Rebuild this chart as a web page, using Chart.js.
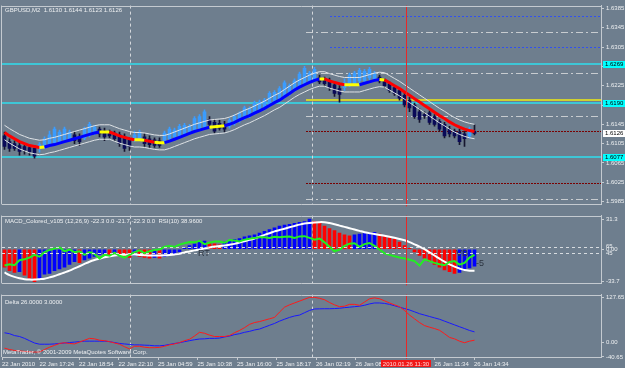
<!DOCTYPE html>
<html>
<head>
<meta charset="utf-8">
<script src="https://cdn.jsdelivr.net/npm/chart.js@4.4.1/dist/chart.umd.min.js"></script>
<style>
  html, body { margin: 0; padding: 0; background: #6e7e8e; overflow: hidden; }
  #wrap { position: relative; width: 625px; height: 368px; }
  #wrap canvas { position: absolute; left: 0; }
</style>
</head>
<body>
<div id="wrap">
  <canvas id="mainChart" width="625" height="210" style="top:0px"></canvas>
  <canvas id="macdChart" width="625" height="79" style="top:210px"></canvas>
  <canvas id="deltaChart" width="625" height="79" style="top:289px"></canvas>
</div>
<script>
// GBPUSD M2 bars, one entry per bar (oldest first)
const opens = [
  1.6121,1.6109,1.6105,1.6101,1.6099,1.6097,1.6095,1.6095,1.6099,1.6103,
  1.6107,1.6109,1.6113,1.6113,1.6123,1.6119,1.6117,1.6123,1.6127,1.6135,
  1.6131,1.6129,1.6127,1.6123,1.6119,1.6113,1.6113,1.6115,1.6119,1.6115,
  1.6113,1.6111,1.6111,1.6115,1.6119,1.6121,1.6125,1.6129,1.6133,1.6137,
  1.6139,1.6155,1.6149,1.6147,1.6145,1.6141,1.6147,1.6153,1.6159,1.6163,
  1.6169,1.6175,1.6179,1.6185,1.6191,1.6197,1.6203,1.6209,1.6217,1.6223,
  1.6229,1.6233,1.6237,1.6241,1.6239,1.6235,1.6227,1.6219,1.6221,1.6227,
  1.6229,1.6235,1.6235,1.6241,1.6239,1.6243,1.6235,1.6229,1.6221,1.6215,
  1.6205,1.6195,1.6185,1.6171,1.6165,1.6169,1.6161,1.6151,1.6145,1.6135,
  1.6131,1.6129,1.6125,1.6121,1.6130
];
const highs = [
  1.6129,1.6115,1.6111,1.6107,1.6103,1.6101,1.6101,1.6107,1.6119,1.6131,
  1.6139,1.6133,1.6139,1.6133,1.6129,1.6125,1.6139,1.6149,1.6143,1.6139,
  1.6137,1.6133,1.6131,1.6129,1.6125,1.6117,1.6131,1.6133,1.6125,1.6121,
  1.6117,1.6117,1.6131,1.6139,1.6137,1.6145,1.6147,1.6145,1.6161,1.6165,
  1.6175,1.6161,1.6155,1.6153,1.6151,1.6157,1.6165,1.6171,1.6183,1.6181,
  1.6193,1.6195,1.6199,1.6213,1.6215,1.6223,1.6235,1.6229,1.6239,1.6253,
  1.6265,1.6255,1.6263,1.6247,1.6243,1.6241,1.6233,1.6225,1.6239,1.6251,
  1.6255,1.6261,1.6259,1.6263,1.6255,1.6247,1.6239,1.6233,1.6225,1.6219,
  1.6209,1.6201,1.6189,1.6177,1.6171,1.6173,1.6165,1.6155,1.6149,1.6141,
  1.6135,1.6135,1.6131,1.6139,1.6144
];
const lows = [
  1.6093,1.6089,1.6091,1.6081,1.6083,1.6081,1.6075,1.6087,1.6095,1.6099,
  1.6103,1.6105,1.6109,1.6109,1.6105,1.6101,1.6113,1.6119,1.6123,1.6119,
  1.6111,1.6117,1.6111,1.6099,1.6089,1.6091,1.6109,1.6111,1.6099,1.6097,
  1.6097,1.6097,1.6107,1.6111,1.6115,1.6117,1.6121,1.6125,1.6129,1.6133,
  1.6135,1.6141,1.6127,1.6133,1.6129,1.6137,1.6143,1.6149,1.6155,1.6159,
  1.6165,1.6171,1.6175,1.6181,1.6187,1.6193,1.6199,1.6205,1.6213,1.6219,
  1.6225,1.6229,1.6233,1.6229,1.6225,1.6215,1.6203,1.6191,1.6215,1.6223,
  1.6225,1.6231,1.6231,1.6237,1.6235,1.6231,1.6221,1.6211,1.6205,1.6195,
  1.6181,1.6171,1.6157,1.6149,1.6157,1.6145,1.6141,1.6131,1.6117,1.6119,
  1.6117,1.6103,1.6099,1.6117,1.6123
];
const closes = [
  1.6099,1.6095,1.6095,1.6089,1.6091,1.6087,1.6079,1.6103,1.6115,1.6123,
  1.6135,1.6129,1.6135,1.6129,1.6111,1.6109,1.6135,1.6145,1.6139,1.6125,
  1.6119,1.6121,1.6115,1.6105,1.6095,1.6099,1.6123,1.6129,1.6105,1.6103,
  1.6101,1.6101,1.6127,1.6135,1.6133,1.6141,1.6143,1.6141,1.6157,1.6161,
  1.6171,1.6145,1.6131,1.6137,1.6135,1.6153,1.6161,1.6167,1.6179,1.6177,
  1.6189,1.6191,1.6195,1.6209,1.6211,1.6219,1.6231,1.6225,1.6235,1.6249,
  1.6261,1.6251,1.6259,1.6233,1.6229,1.6221,1.6209,1.6207,1.6231,1.6247,
  1.6251,1.6257,1.6255,1.6259,1.6251,1.6235,1.6225,1.6215,1.6209,1.6199,
  1.6185,1.6179,1.6161,1.6155,1.6163,1.6149,1.6145,1.6135,1.6121,1.6125,
  1.6121,1.6109,1.6115,1.6135,1.6126
];
// moving average drawn over the candles, and its envelope width
const movingAvg = [
  1.6128,1.6121,1.6115,1.6109,1.6105,1.6101,1.6099,1.6097,1.6098,1.6101,
  1.6103,1.6106,1.6109,1.6112,1.6115,1.6118,1.6121,1.6124,1.6127,1.6129,
  1.6129,1.6129,1.6125,1.6121,1.6118,1.6115,1.6113,1.6113,1.6112,1.6110,
  1.6108,1.6107,1.6107,1.6110,1.6114,1.6118,1.6122,1.6126,1.6130,1.6133,
  1.6136,1.6139,1.6140,1.6141,1.6142,1.6145,1.6149,1.6154,1.6159,1.6163,
  1.6168,1.6173,1.6178,1.6184,1.6190,1.6195,1.6202,1.6209,1.6216,1.6222,
  1.6227,1.6232,1.6236,1.6239,1.6239,1.6235,1.6232,1.6229,1.6227,1.6227,
  1.6227,1.6227,1.6230,1.6233,1.6236,1.6238,1.6237,1.6231,1.6225,1.6219,
  1.6212,1.6205,1.6198,1.6191,1.6184,1.6177,1.6170,1.6163,1.6157,1.6150,
  1.6144,1.6139,1.6135,1.6132,1.6130
];
const envelope = 0.0015;

// MACD_Colored panel
const macdHist = [
  -18.6,-22.3,-24.2,-23.3,-27,-30,-33.7,-31,-26,-25.1,
  -22.3,-20.5,-18.6,-15.8,-13,-14,-11.2,-9.3,-7.4,-5.6,
  -4.7,-5.6,-4.7,-6.5,-7.4,-8.4,-6.5,-7.4,-8.4,-9.3,
  -8.4,-9.3,-7.4,-5.6,-4.7,-2.8,0.9,3.7,5.6,7.4,
  8.4,6.5,5.6,4.7,7.4,9.3,10.2,11.2,13,14,
  14.9,16.7,18.6,20.5,22.3,24.2,25.1,26,27,27.9,
  28.8,31.3,28.8,27,24.2,21.4,19.5,16.7,14.9,14,
  14.9,15.8,16.3,16.7,17.7,15.8,14,12.1,10.2,7.4,
  3.7,0.9,-2.8,-6.5,-9.3,-13,-15.8,-18.6,-21.4,-23.3,
  -25.1,-24.2,-22.3,-19.5,-17.7
];
const macdSignal = [
  -24.2,-27,-28.8,-30.2,-31.2,-31.6,-31.6,-31.2,-30.7,-29.3,
  -27.9,-26,-24.2,-22.3,-20,-17.7,-15.3,-13,-11.2,-9.8,
  -8.4,-7.4,-6.5,-6,-5.8,-5.6,-5.6,-5.9,-6.2,-6.5,
  -6.5,-6.5,-6.3,-5.9,-5.4,-4.7,-3.3,-2.3,-1.2,-0.3,
  0.9,1.9,2.8,3.3,3.9,4.7,5.6,7,8.4,9.8,
  11.2,13,14.9,16.7,18.6,20,21.4,22.8,24.2,25.6,
  26.7,27.4,27.9,28.2,28.1,27.2,26,24.6,23.3,21.9,
  20.5,19.1,17.7,16.7,15.8,14.9,14,13,11.9,10.7,
  9.3,7.4,5.1,2.8,0,-3.3,-6.5,-9.8,-13,-15.8,
  -18.1,-20,-21.7,-22.3,-22.3
];
const rsi = [
  5,9.3,6.4,22,25,30.7,39.3,33.6,47.9,55,
  59.3,63.6,50.7,56.4,47.9,50.7,39.3,47.9,42.1,27.9,
  39.3,36.4,46.4,36.4,30.7,39.3,47.9,53.6,45,50.7,
  55,56.4,65,67.9,65,72.1,76.4,80.7,79.3,84.1,
  73.6,77.9,82.1,82.1,77.9,87,85,82.1,87.9,90.7,
  93.6,95.4,95.4,93.6,97.3,95.4,97.3,98.1,93.6,98.4,
  99.2,93.6,87.9,91.6,79.3,65,50.7,56.4,67.9,75,
  76.4,65,73.6,77.3,67.9,56.4,44.1,39.3,35,30.7,
  27.9,23.6,19.3,5,25,19.3,13.6,9.3,5.9,16.4,
  19.3,7.9,13.6,30.7,38.96
];
const rsiLevels = [65, 45];

// Delta panel
const deltaFast = [
  -15.8,-19.7,-22.4,-23.7,-25,-26.3,-26.8,-26.8,-19.7,-13.2,
  -7.9,-2.6,-0.5,-2.6,-3.9,1.3,6.6,11.8,10.5,6.6,
  5.3,2.6,-1.3,-4.7,-11.8,-17.9,-10.5,-10.5,-13.2,-14.5,
  -14.5,-13.7,-10.5,-6.6,-3.9,0,5.3,9.2,18.4,28.9,
  26.3,21,17.1,17.1,17.1,19.7,27.6,34.2,42.1,51.3,
  56.5,59.2,63.1,67.1,71,86,99.9,106.5,111.8,117,
  122.3,127.6,127.65,124.9,121,113.1,106.5,101.3,102.6,107.8,
  107.8,105.2,114.4,123.6,126.2,123.6,117.8,111.8,106.5,101.3,
  90.7,77.6,67.1,56.5,47.9,43.4,39.5,34.7,25,14.5,
  10.5,3.9,-0.5,3.9,6.6
];
const deltaSlow = [
  27.6,25,19.7,17.1,11.8,5.3,-1.3,-4.7,-4.7,-4.7,
  -3.9,-2.6,-1.3,0,1.3,2.6,3.9,3.9,3.9,3.9,
  3.9,2.6,0,-2.6,-3.9,-5.3,-6.6,-6.6,-7.4,-7.9,
  -9.2,-9.2,-7.9,-5.3,-2.6,-0.5,2.6,5.3,7.9,10,
  10.5,11.8,11.8,12.6,15.8,18.4,22.4,25,28.9,31.6,
  35.5,38.1,43.4,48.7,53.9,60.5,65.8,71,75,77.6,
  84.2,90.7,94.7,95.2,95.5,95.5,96,96.8,98.6,99.9,
  101.3,102.6,105.2,109.1,111.8,111.8,110.5,107.8,103.9,99.9,
  96,92,86.8,81.5,77.6,73.6,69.7,65.8,60.5,55.2,
  50,44.7,39.5,34.2,30.2
];

// axis ticks and labels
const priceTicks = [1.6385, 1.6345, 1.6305, 1.6265, 1.6225, 1.6185, 1.6145, 1.6105, 1.6065, 1.6025, 1.5985];
const macdTicks = [31.3, 0, -33.7];
const deltaTicks = [127.65, 0, -40.65];
const timeLabels = ['22 Jan 2010', '22 Jan 17:24', '22 Jan 18:54', '22 Jan 22:10', '25 Jan 04:59', '25 Jan 10:38',
  '25 Jan 16:00', '25 Jan 18:17', '26 Jan 02:19', '26 Jan 08:41', '26 Jan 11:34', '26 Jan 14:34'];
const timeTickAt = [-0.5, 7.0, 14.9, 22.8, 30.7, 38.6, 46.5, 54.4, 62.3, 70.2, 86.0, 93.9];
const cursorLabel = '2010.01.26 11:30';

// horizontal objects on the price chart
const cyanLevels = [1.6269, 1.6190, 1.6077];
const yellowLevels = [1.6195];
const dashDotLevels = [1.6336, 1.6252, 1.6162, 1.5990];
const blueDotLevels = [1.6369, 1.6305];
const redDotLevels = [1.6131, 1.6023];
const levelStartBar = 60.3;
const separatorBars = [25.1, 61.5];
const cursorBar = 80.3;
const macdNotes = [['RT', 38.7, -4], ['VB', 90.3, -4], ['-5', 94.3, -15.1]];

const BG = '#6e7e8e';
const FG = '#eef0f2';
const FRAME = '#c4cad0';
const FONT = "'Liberation Sans', Arial, sans-serif";
const X_MIN = -0.5, X_MAX = 119.3;
const last = closes.length - 1;

function hLine(ctx, x0, x1, y, color, width, dash) {
  const yy = width % 2 ? Math.round(y) + 0.5 : Math.round(y);
  ctx.save();
  ctx.strokeStyle = color;
  ctx.lineWidth = width;
  ctx.setLineDash(dash || []);
  ctx.beginPath();
  ctx.moveTo(x0, yy);
  ctx.lineTo(x1, yy);
  ctx.stroke();
  ctx.restore();
}

function vLine(ctx, x, y0, y1, color, dash) {
  const xx = Math.round(x) + 0.5;
  ctx.save();
  ctx.strokeStyle = color;
  ctx.lineWidth = 1;
  ctx.setLineDash(dash || []);
  ctx.beginPath();
  ctx.moveTo(xx, y0);
  ctx.lineTo(xx, y1);
  ctx.stroke();
  ctx.restore();
}

function text(ctx, str, x, y, color, size, align) {
  ctx.save();
  ctx.font = size + 'px ' + FONT;
  ctx.fillStyle = color;
  ctx.textAlign = align || 'left';
  ctx.textBaseline = 'middle';
  ctx.fillText(str, x, y);
  ctx.restore();
}

// shared plugins
const paintBackground = {
  id: 'paintBackground',
  beforeDraw(chart) {
    const { ctx, width, height } = chart;
    ctx.save();
    ctx.fillStyle = BG;
    ctx.fillRect(0, 0, width, height);
    ctx.restore();
  }
};

const panelFrame = {
  id: 'panelFrame',
  beforeDatasetsDraw(chart) {
    const { ctx, chartArea: a, scales: { x } } = chart;
    separatorBars.forEach(b => vLine(ctx, x.getPixelForValue(b), a.top, a.bottom, '#d4d8dc', [3, 3]));
  },
  afterDatasetsDraw(chart) {
    const { ctx, chartArea: a, scales: { x } } = chart;
    vLine(ctx, x.getPixelForValue(cursorBar), a.top, a.bottom + 2, '#e82828');
  },
  afterDraw(chart) {
    const { ctx, chartArea: a } = chart;
    hLine(ctx, a.left, a.right, a.top, FRAME, 1);
    hLine(ctx, a.left, a.right, a.bottom, FRAME, 1);
    vLine(ctx, a.left - 1, a.top, a.bottom, FRAME);
  }
};

function timeScale(show) {
  const scale = {
    type: 'linear',
    min: X_MIN,
    max: X_MAX,
    offset: false,
    display: show,
    afterBuildTicks: s => { s.ticks = timeTickAt.map(v => ({ value: v })); },
    ticks: {
      autoSkip: false, maxRotation: 0, minRotation: 0, align: 'start', padding: 1,
      color: FG, font: { family: FONT, size: 6 },
      callback: (v, i) => timeLabels[i]
    },
    grid: { drawOnChartArea: false, color: FRAME, tickLength: 3, offset: false },
    border: { color: FRAME }
  };
  if (show) scale.afterFit = s => { s.height = 11; };
  return scale;
}

function valueScale(min, max, ticks, fmt) {
  return {
    type: 'linear',
    position: 'right',
    min: min,
    max: max,
    afterBuildTicks: s => { s.ticks = ticks.map(v => ({ value: v })); },
    afterFit: s => { s.width = 24; },
    ticks: { color: FG, font: { family: FONT, size: 6 }, padding: 2, callback: fmt },
    grid: { drawOnChartArea: false, color: FRAME, tickLength: 3 },
    border: { color: FRAME, width: 1 }
  };
}

const baseOptions = {
  responsive: false,
  animation: false,
  devicePixelRatio: 1,
  events: [],
  plugins: { legend: { display: false }, tooltip: { enabled: false } }
};

// ---------- price chart ----------
const isBull = i => closes[i] >= opens[i];
const trendColor = c => {
  const d = c.p1.parsed.y - c.p0.parsed.y;
  if (Math.abs(d) < 0.00015) return '#ffff00';
  return d > 0 ? '#0000ff' : '#ff0000';
};

const priceOverlay = {
  id: 'priceOverlay',
  beforeDatasetsDraw(chart) {
    const { ctx, chartArea: a, scales: { x, y } } = chart;
    const x0 = x.getPixelForValue(levelStartBar);
    dashDotLevels.forEach(p => hLine(ctx, x0, a.right, y.getPixelForValue(p), '#c8ccd0', 1, [7, 3, 2, 3]));
    blueDotLevels.forEach(p => hLine(ctx, x0 + 24, a.right, y.getPixelForValue(p), '#3050f0', 1, [2, 2]));
    redDotLevels.forEach(p => hLine(ctx, x0, a.right, y.getPixelForValue(p), '#7a0000', 1, [2, 1]));
    yellowLevels.forEach(p => hLine(ctx, x0, a.right, y.getPixelForValue(p), '#d0d030', 2));
    cyanLevels.forEach(p => hLine(ctx, a.left, a.right, y.getPixelForValue(p), '#3ec6d6', 2));
  },
  afterDraw(chart) {
    const { ctx, chartArea: a, scales: { y } } = chart;
    const box = (p, bg) => {
      const py = Math.round(y.getPixelForValue(p));
      ctx.save();
      ctx.fillStyle = bg;
      ctx.fillRect(a.right + 2, py - 3, 22, 7);
      ctx.restore();
      text(ctx, p.toFixed(4), a.right + 4, py + 0.5, '#000000', 6);
    };
    cyanLevels.forEach(p => box(p, '#00ffff'));
    box(closes[last], '#ffffff');
    const ohlc = [opens[last], highs[last], lows[last], closes[last]].map(v => v.toFixed(4)).join(' ');
    text(ctx, 'GBPUSD,M2  ' + ohlc, a.left + 3, a.top + 5, FG, 6);
  }
};

const bars = opens.map((o, i) => i);
new Chart(document.getElementById('mainChart'), {
  type: 'bar',
  data: {
    datasets: [
      {
        type: 'line', order: 0,
        data: bars.map(i => ({ x: i, y: movingAvg[i] })),
        borderWidth: 3, pointRadius: 0, tension: 0,
        borderColor: '#0000ff',
        segment: { borderColor: trendColor }
      },
      {
        type: 'line', order: 1,
        data: bars.map(i => ({ x: i, y: movingAvg[i] + envelope })),
        borderWidth: 1, pointRadius: 0, tension: 0, borderColor: '#dfe3e6'
      },
      {
        type: 'line', order: 1,
        data: bars.map(i => ({ x: i, y: movingAvg[i] - envelope })),
        borderWidth: 1, pointRadius: 0, tension: 0, borderColor: '#dfe3e6'
      },
      {
        order: 2,
        data: bars.map(i => ({ x: i, y: [opens[i], closes[i]] })),
        barThickness: 3, minBarLength: 1, grouped: false,
        backgroundColor: c => isBull(c.dataIndex) ? '#3a9cff' : '#0a0a58'
      },
      {
        order: 3,
        data: bars.map(i => ({ x: i, y: [lows[i], highs[i]] })),
        barThickness: 1, grouped: false,
        backgroundColor: c => isBull(c.dataIndex) ? '#3a9cff' : '#16162e'
      }
    ]
  },
  options: Object.assign({}, baseOptions, {
    layout: { padding: { left: 2, top: 2, bottom: 2, right: 0 } },
    scales: {
      x: timeScale(false),
      y: valueScale(1.5979, 1.6391, priceTicks, v => v.toFixed(4))
    }
  }),
  plugins: [paintBackground, priceOverlay, panelFrame]
});

// ---------- MACD panel ----------
const macdOverlay = {
  id: 'macdOverlay',
  afterDatasetsDraw(chart) {
    const { ctx, chartArea: a, scales: { x, y, yr } } = chart;
    rsiLevels.forEach(v => hLine(ctx, a.left, a.right, yr.getPixelForValue(v), '#d8dce0', 1, [3, 3]));
    macdNotes.forEach(([t, b, v]) => text(ctx, t, x.getPixelForValue(b), y.getPixelForValue(v), '#2c3440', 9));
  },
  afterDraw(chart) {
    const { ctx, chartArea: a, scales: { yr } } = chart;
    rsiLevels.forEach(v => text(ctx, String(v), a.right + 5, yr.getPixelForValue(v), FG, 6));
    text(ctx, 'MACD_Colored_v105 (12,26,9) -22.3 0.0 -21.7 -22.3 0.0  RSI(10) ' + rsi[last].toFixed(4),
      a.left + 3, a.top + 6, FG, 6);
  }
};

new Chart(document.getElementById('macdChart'), {
  type: 'bar',
  data: {
    datasets: [
      {
        type: 'line', order: 0, yAxisID: 'yr',
        data: bars.map(i => ({ x: i, y: rsi[i] })),
        borderWidth: 2, pointRadius: 0, tension: 0, borderColor: '#22ee22'
      },
      {
        type: 'line', order: 1,
        data: bars.map(i => ({ x: i, y: macdSignal[i] })),
        borderWidth: 2, pointRadius: 0, tension: 0.3, borderColor: '#ffffff'
      },
      {
        order: 2,
        data: bars.map(i => ({ x: i, y: macdHist[i] })),
        barThickness: 3, grouped: false,
        backgroundColor: c => {
          const i = c.dataIndex;
          return i > 0 && macdHist[i] >= macdHist[i - 1] ? '#0000ff' : '#ff0000';
        }
      }
    ]
  },
  options: Object.assign({}, baseOptions, {
    layout: { padding: { left: 2, top: 1, bottom: 2, right: 0 } },
    scales: {
      x: timeScale(false),
      y: valueScale(-35.56, 35.01, macdTicks, v => v === 0 ? '0.00' : v.toFixed(1)),
      yr: { type: 'linear', display: false, min: -52.1, max: 165 }
    }
  }),
  plugins: [paintBackground, macdOverlay, panelFrame]
});

// ---------- Delta panel + time axis ----------
const deltaOverlay = {
  id: 'deltaOverlay',
  afterDraw(chart) {
    const { ctx, chartArea: a, scales: { x } } = chart;
    text(ctx, 'Delta 26.0000 3.0000', a.left + 3, a.top + 8, FG, 6);
    text(ctx, 'MetaTrader, \u00a9 2001-2009 MetaQuotes Software Corp.', a.left + 1, a.bottom - 5, FG, 6);
    const cx = x.getPixelForValue(cursorBar);
    ctx.save();
    ctx.fillStyle = '#f01818';
    ctx.fillRect(Math.round(cx) - 25, a.bottom + 3, 50, 7);
    ctx.restore();
    text(ctx, cursorLabel, Math.round(cx), a.bottom + 7, '#ffd8d8', 6, 'center');
  }
};

new Chart(document.getElementById('deltaChart'), {
  type: 'line',
  data: {
    datasets: [
      {
        order: 0,
        data: bars.map(i => ({ x: i, y: deltaFast[i] })),
        borderWidth: 1, pointRadius: 0, tension: 0, borderColor: '#ff1a1a'
      },
      {
        order: 1,
        data: bars.map(i => ({ x: i, y: deltaSlow[i] })),
        borderWidth: 1, pointRadius: 0, tension: 0, borderColor: '#1818ff'
      }
    ]
  },
  options: Object.assign({}, baseOptions, {
    layout: { padding: { left: 2, top: 1, bottom: 0, right: 0 } },
    scales: {
      x: timeScale(true),
      y: valueScale(-40.8, 135.4, deltaTicks, v => v.toFixed(2))
    }
  }),
  plugins: [paintBackground, deltaOverlay, panelFrame]
});
</script>
</body>
</html>
